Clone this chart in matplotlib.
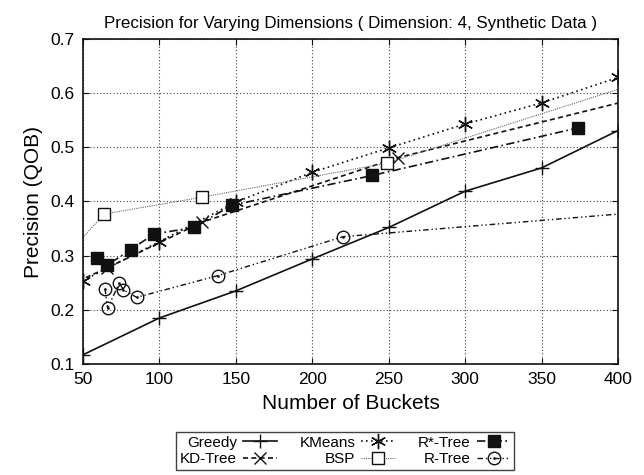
import matplotlib
matplotlib.use("Agg")
import matplotlib.pyplot as plt
from matplotlib.path import Path

plt.rcParams['font.family'] = ['Liberation Sans', 'DejaVu Sans']

greedy_x = [50, 100, 150, 200, 250, 300, 350, 400]
greedy_y = [0.117, 0.185, 0.235, 0.294, 0.352, 0.419, 0.462, 0.531]

kmeans_x = [50, 100, 150, 200, 250, 300, 350, 400]
kmeans_y = [0.254, 0.326, 0.399, 0.454, 0.499, 0.543, 0.582, 0.629]

rstar_x = [59.4, 66, 81.2, 96.4, 122.6, 147.2, 239.2, 374]
rstar_y = [0.295, 0.283, 0.311, 0.340, 0.352, 0.393, 0.448, 0.536]

kd_x = [32, 65.5, 128, 256, 512]
kd_y = [0.234, 0.277, 0.362, 0.481, 0.660]

bsp_x = [32, 64, 128, 249, 512]
bsp_y = [0.279, 0.377, 0.408, 0.471, 0.708]

rtree_x = [64.4, 66.1, 73.8, 76.4, 85.1, 138, 220, 440]
rtree_y = [0.239, 0.203, 0.250, 0.237, 0.223, 0.263, 0.335, 0.386]

xticks = [50, 100, 150, 200, 250, 300, 350, 400]
yticks = [0.1, 0.2, 0.3, 0.4, 0.5, 0.6, 0.7]

# circle-with-dot marker
odot = Path.make_compound_path(Path.circle((0, 0), 1.0), Path.circle((0, 0), 0.1))

fig = plt.figure(figsize=(6.44, 4.75), dpi=100)
ax = fig.add_axes([83/644, 1-364/475, (618-83)/644, (364-39)/475])

k = '#111111'
ax.plot(greedy_x, greedy_y, color=k, lw=1.2, ls='-', marker='+', ms=10, mew=1.0, label='Greedy')
ax.plot(kd_x, kd_y, color=k, lw=1.2, ls=(0, (3, 2)), marker='x', ms=8, mew=1.0, label='KD-Tree')
ax.plot(kmeans_x, kmeans_y, color=k, lw=1.2, ls=(0, (1, 2)), marker=(6, 2, 0), ms=11, mew=1.0, label='KMeans')
ax.plot(bsp_x, bsp_y, color='#666666', lw=0.8, ls=(0, (1, 1)), marker='s', ms=8, mfc='white', mec=k, mew=1.0, label='BSP')
ax.plot(rstar_x, rstar_y, color=k, lw=1.2, ls=(0, (5, 2, 1, 2)), marker='s', ms=8.5, mfc=k, mec=k, label='R*-Tree')
ax.plot(rtree_x, rtree_y, color=k, lw=1.0, ls=(0, (4, 2, 1, 2, 1, 2)), marker=odot, ms=9, mfc='none', mec=k, mew=1.0, label='R-Tree')

ax.set_xlim(50, 400)
ax.set_ylim(0.1, 0.7)
ax.set_xticks(xticks)
ax.set_yticks(yticks)
ax.set_yticklabels([f'{v:.1f}' for v in yticks])
ax.tick_params(direction='in', top=True, right=True, labelsize=12.5, length=4, color=k, pad=6)
ax.grid(True, ls=(0, (1, 2)), color='#444444', lw=0.8)
for s in ax.spines.values():
    s.set_linewidth(1.2)
    s.set_color(k)

ax.set_title('Precision for Varying Dimensions ( Dimension: 4, Synthetic Data )', fontsize=12.2, pad=8)
ax.set_xlabel('Number of Buckets', fontsize=15, labelpad=5)
ax.set_ylabel('Precision (QOB)', fontsize=15, labelpad=5)

leg = ax.legend(loc='upper center', bbox_to_anchor=(0.49, -0.185), ncol=3, markerfirst=False,
                frameon=True, fancybox=False, edgecolor=k, fontsize=11, handlelength=2.2,
                columnspacing=1.5, handletextpad=0.4, borderpad=0.25, labelspacing=0.15)
leg.get_frame().set_linewidth(1.0)

fig.savefig('out.png', dpi=100)
